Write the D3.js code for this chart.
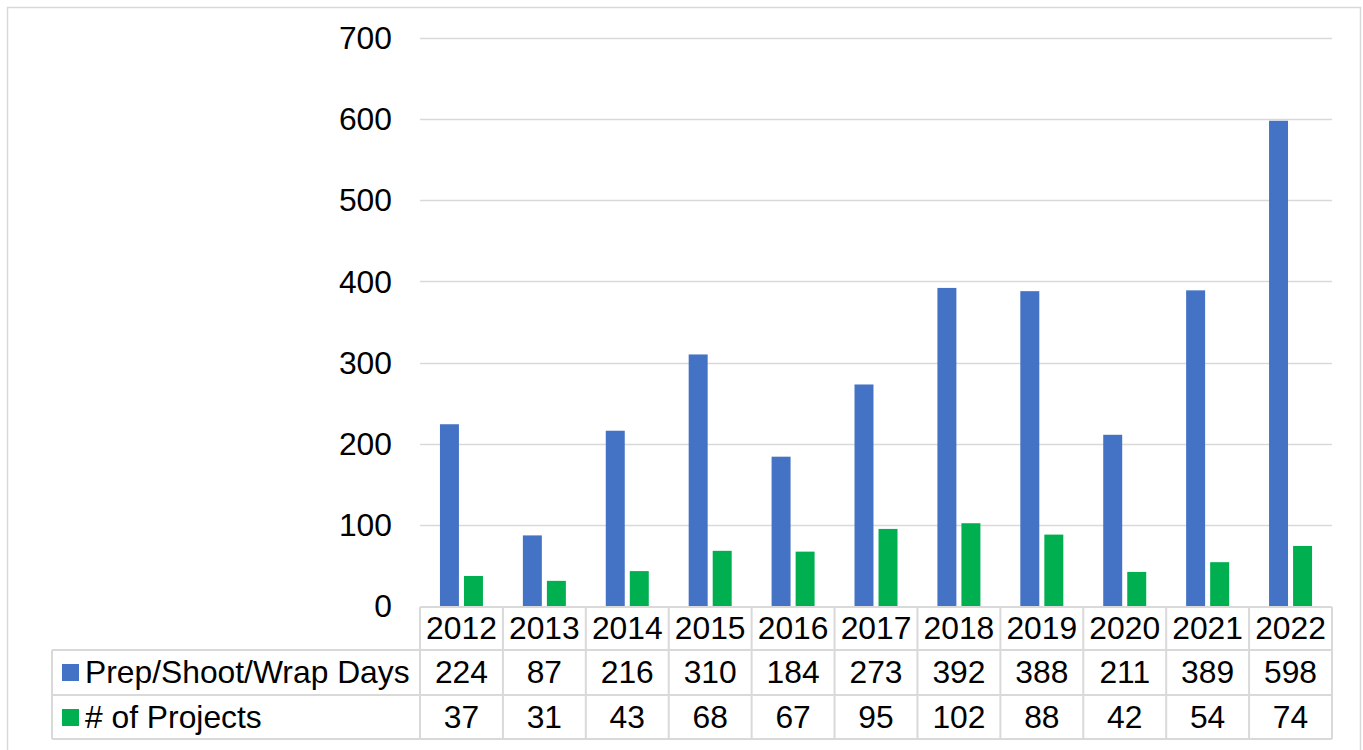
<!DOCTYPE html>
<html>
<head>
<meta charset="utf-8">
<script src="https://cdn.jsdelivr.net/npm/d3@7"></script>
<style>
  html, body { margin: 0; padding: 0; background: #fff; }
  svg { display: block; font-family: "Liberation Sans", Arial, sans-serif; }
</style>
</head>
<body>
<div id="chart"></div>
<script>
// chart data
var years = ["2012", "2013", "2014", "2015", "2016", "2017", "2018", "2019", "2020", "2021", "2022"];
var seriesNames = ["Prep/Shoot/Wrap Days", "# of Projects"];
var prepDays = [224, 87, 216, 310, 184, 273, 392, 388, 211, 389, 598];
var projects = [37, 31, 43, 68, 67, 95, 102, 88, 42, 54, 74];
var yTicks = [0, 100, 200, 300, 400, 500, 600, 700];

var colors = ["#4472C4", "#00B050"];
var seriesValues = [prepDays, projects];

var width = 1363, height = 750;
var fontSize = 31.8;
var gridColor = "#d9d9d9";

var svg = d3.select("#chart")
        .append("svg")
        .attr("width", width)
        .attr("height", height);

// outer chart border
svg.append("rect")
        .attr("x", 7.5)
        .attr("y", 7.5)
        .attr("width", 1353)
        .attr("height", 760)
        .attr("fill", "none")
        .attr("stroke", gridColor)
        .attr("stroke-width", 1.5);

var x = d3.scaleBand()
        .domain(years)
        .range([420, 1332])
        .paddingInner(0)
        .paddingOuter(0);

var x1 = d3.scaleBand()
        .domain(d3.range(seriesNames.length))
        .range([0, 43])
        .paddingInner(0.21);

var y = d3.scaleLinear()
        .domain([0, 700])
        .range([606, 38]);

// gridlines
svg.append("g")
        .selectAll("line")
        .data(yTicks.filter(function (d) { return d > 0; }))
        .enter()
        .append("line")
        .attr("x1", 420)
        .attr("x2", 1332)
        .attr("y1", function (d) { return Math.round(y(d)) + 0.5; })
        .attr("y2", function (d) { return Math.round(y(d)) + 0.5; })
        .attr("stroke", gridColor)
        .attr("stroke-width", 1.5);

// y axis labels
svg.append("g")
        .selectAll("text")
        .data(yTicks)
        .enter()
        .append("text")
        .attr("x", 392)
        .attr("y", function (d) { return y(d); })
        .attr("dy", "0.35em")
        .attr("text-anchor", "end")
        .attr("font-size", fontSize)
        .attr("fill", "#000")
        .text(function (d) { return d; });

// bars
var groups = svg.append("g")
        .selectAll("g")
        .data(years)
        .enter()
        .append("g")
        .attr("transform", function (d) {
            return "translate(" + (x(d) + x.bandwidth() / 2 - 21.5) + ",0)";
        });

groups.selectAll("rect")
        .data(function (d, i) {
            return seriesValues.map(function (vals, s) {
                return {s: s, v: vals[i]};
            });
        })
        .enter()
        .append("rect")
        .attr("x", function (d) { return x1(d.s); })
        .attr("width", x1.bandwidth())
        .attr("y", function (d) { return y(d.v); })
        .attr("height", function (d) { return y(0) - y(d.v); })
        .attr("fill", function (d) { return colors[d.s]; });

// data table
var rowTop = [607, 650, 695];
var rowBottom = 739;
var tableLeft = 52;
var table = svg.append("g")
        .attr("stroke", gridColor)
        .attr("stroke-width", 2)
        .attr("fill", "none");

// horizontal lines
table.append("line").attr("x1", 420).attr("x2", 1332).attr("y1", rowTop[0]).attr("y2", rowTop[0]);
[rowTop[1], rowTop[2], rowBottom].forEach(function (yy) {
    table.append("line").attr("x1", tableLeft).attr("x2", 1332).attr("y1", yy).attr("y2", yy);
});
// vertical lines
table.append("line").attr("x1", tableLeft).attr("x2", tableLeft).attr("y1", rowTop[1]).attr("y2", rowBottom);
years.forEach(function (d) {
    table.append("line").attr("x1", x(d)).attr("x2", x(d)).attr("y1", rowTop[0]).attr("y2", rowBottom);
});
table.append("line").attr("x1", 1332).attr("x2", 1332).attr("y1", rowTop[0]).attr("y2", rowBottom);

// year header
svg.append("g")
        .selectAll("text")
        .data(years)
        .enter()
        .append("text")
        .attr("x", function (d) { return x(d) + x.bandwidth() / 2; })
        .attr("y", 639)
        .attr("text-anchor", "middle")
        .attr("font-size", fontSize)
        .text(function (d) { return d; });

var baselines = [683, 728];
var keyTops = [664, 709];

seriesNames.forEach(function (name, s) {
    svg.append("rect")
            .attr("x", 62)
            .attr("y", keyTops[s])
            .attr("width", 17)
            .attr("height", 17)
            .attr("fill", colors[s]);

    svg.append("text")
            .attr("x", 85)
            .attr("y", baselines[s])
            .attr("font-size", fontSize)
            .text(name);

    svg.append("g")
            .selectAll("text")
            .data(seriesValues[s])
            .enter()
            .append("text")
            .attr("x", function (d, i) { return x(years[i]) + x.bandwidth() / 2; })
            .attr("y", baselines[s])
            .attr("text-anchor", "middle")
            .attr("font-size", fontSize)
            .text(function (d) { return d; });
});
</script>
</body>
</html>
